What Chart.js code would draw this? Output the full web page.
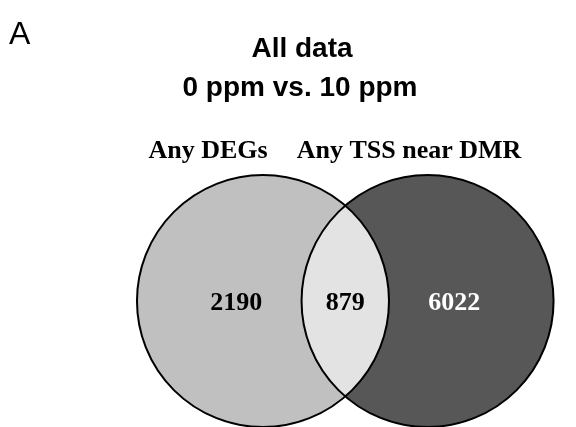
<!DOCTYPE html>
<html>
<head>
<meta charset="utf-8">
<script src="https://cdn.jsdelivr.net/npm/chart.js@4/dist/chart.umd.min.js"></script>
<style>
  body { margin: 0; background: #fff; }
  #wrap { width: 576px; height: 427px; }
</style>
</head>
<body>
<div id="wrap"><canvas id="venn" width="576" height="427"></canvas></div>
<script>
// sets and region counts
const setNames = ['Any DEGs', 'Any TSS near DMR'];
const circleX = [-0.653, 0.653];
const circleY = [0, 0];
const circleR = [1, 1];
const regionCounts = [2190, 879, 6022];
const regionX = [-0.865, 0, 0.865];
const regionY = [0, 0, 0];

const fillLeft = '#c0c0c0';
const fillRight = '#575757';
const fillBoth = '#e3e3e3';

function circlePx(chart, i) {
    const xs = chart.scales.x, ys = chart.scales.y;
    const cx = xs.getPixelForValue(circleX[i]);
    const cy = ys.getPixelForValue(circleY[i]);
    const r = xs.getPixelForValue(circleX[i] + circleR[i]) - cx;
    return { cx, cy, r };
}

const vennPlugin = {
    id: 'venn',
    beforeDatasetsDraw(chart) {
        const ctx = chart.ctx;
        const a = circlePx(chart, 0), b = circlePx(chart, 1);
        ctx.save();
        // left and right fills
        ctx.fillStyle = fillLeft;
        ctx.beginPath(); ctx.arc(a.cx, a.cy, a.r, 0, Math.PI * 2); ctx.fill();
        ctx.fillStyle = fillRight;
        ctx.beginPath(); ctx.arc(b.cx, b.cy, b.r, 0, Math.PI * 2); ctx.fill();
        // overlap
        ctx.save();
        ctx.beginPath(); ctx.arc(a.cx, a.cy, a.r, 0, Math.PI * 2); ctx.clip();
        ctx.fillStyle = fillBoth;
        ctx.beginPath(); ctx.arc(b.cx, b.cy, b.r, 0, Math.PI * 2); ctx.fill();
        ctx.restore();
        // outlines
        ctx.strokeStyle = '#000';
        ctx.lineWidth = 2;
        ctx.beginPath(); ctx.arc(a.cx, a.cy, a.r, 0, Math.PI * 2); ctx.stroke();
        ctx.beginPath(); ctx.arc(b.cx, b.cy, b.r, 0, Math.PI * 2); ctx.stroke();
        ctx.restore();
    },
    afterDatasetsDraw(chart) {
        const ctx = chart.ctx;
        const meta = chart.getDatasetMeta(0);
        ctx.save();
        ctx.textAlign = 'center';
        ctx.textBaseline = 'alphabetic';
        ctx.font = 'bold 26px "Liberation Serif", serif';
        meta.data.forEach((pt, i) => {
            ctx.fillStyle = i === 2 ? '#fff' : '#000';
            ctx.fillText(String(regionCounts[i]), pt.x, pt.y + 9);
        });

        // panel letter
        ctx.fillStyle = '#000';
        ctx.textAlign = 'left';
        ctx.font = '32px "Liberation Sans", Arial, sans-serif';
        ctx.fillText('A', 9, 44);

        // title
        ctx.textAlign = 'center';
        ctx.font = 'bold 28px "Liberation Sans", Arial, sans-serif';
        ctx.fillText('All data', 302, 57);
        ctx.fillText('0 ppm vs. 10 ppm', 300, 96);

        // set names
        ctx.font = 'bold 26px "Liberation Serif", serif';
        ctx.fillText(setNames[0], 208, 158);
        ctx.fillText(setNames[1], 409, 158);
        ctx.restore();
    }
};

new Chart(document.getElementById('venn').getContext('2d'), {
    type: 'scatter',
    data: {
        datasets: [{
            data: regionCounts.map((c, i) => ({ x: regionX[i], y: regionY[i] })),
            pointRadius: 0,
            pointHoverRadius: 0
        }]
    },
    options: {
        responsive: false,
        animation: false,
        layout: { padding: 0 },
        scales: {
            x: { display: false, min: -2.740, max: 1.831 },
            y: { display: false, min: -1.0, max: 2.389 }
        },
        plugins: {
            legend: { display: false },
            tooltip: { enabled: false }
        }
    },
    plugins: [vennPlugin]
});
</script>
</body>
</html>
